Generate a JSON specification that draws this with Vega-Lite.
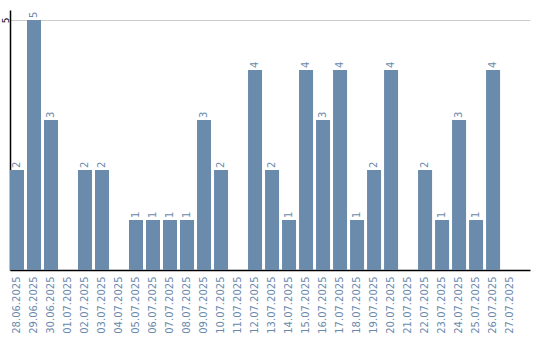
{
  "$schema": "https://vega.github.io/schema/vega-lite/v6.json",
  "width": 520,
  "height": 260,
  "autosize": "none",
  "padding": {"left": 10, "top": 10, "right": 10, "bottom": 70},
  "background": "white",
  "config": {"view": {"stroke": null}, "font": "DejaVu Sans"},
  "data": {"values": [
    {"d": "28.06.2025", "v": 2}, {"d": "29.06.2025", "v": 5}, {"d": "30.06.2025", "v": 3},
    {"d": "01.07.2025", "v": 0}, {"d": "02.07.2025", "v": 2}, {"d": "03.07.2025", "v": 2},
    {"d": "04.07.2025", "v": 0}, {"d": "05.07.2025", "v": 1}, {"d": "06.07.2025", "v": 1},
    {"d": "07.07.2025", "v": 1}, {"d": "08.07.2025", "v": 1}, {"d": "09.07.2025", "v": 3},
    {"d": "10.07.2025", "v": 2}, {"d": "11.07.2025", "v": 0}, {"d": "12.07.2025", "v": 4},
    {"d": "13.07.2025", "v": 2}, {"d": "14.07.2025", "v": 1}, {"d": "15.07.2025", "v": 4},
    {"d": "16.07.2025", "v": 3}, {"d": "17.07.2025", "v": 4}, {"d": "18.07.2025", "v": 1},
    {"d": "19.07.2025", "v": 2}, {"d": "20.07.2025", "v": 4}, {"d": "21.07.2025", "v": 0},
    {"d": "22.07.2025", "v": 2}, {"d": "23.07.2025", "v": 1}, {"d": "24.07.2025", "v": 3},
    {"d": "25.07.2025", "v": 1}, {"d": "26.07.2025", "v": 4}, {"d": "27.07.2025", "v": 0}
  ]},
  "encoding": {
    "x": {
      "field": "d", "type": "ordinal", "sort": null,
      "scale": {"paddingInner": 0.176, "paddingOuter": 0.38, "align": 0},
      "axis": {
        "title": null, "labelAngle": -90, "labelFontSize": 10, "labelColor": "#6a8aad",
        "ticks": false, "domainColor": "#000000", "domainWidth": 1.5, "labelPadding": 6,
        "labelFont": "DejaVu Sans"
      }
    },
    "y": {
      "field": "v", "type": "quantitative",
      "scale": {"domain": [0, 5.2], "nice": false},
      "axis": {
        "title": null, "values": [5], "ticks": false, "labelAngle": -90, "labelFontSize": 9,
        "labelColor": "#000000", "domainColor": "#000000", "domainWidth": 1.5,
        "gridColor": "#cccccc", "labelPadding": 5, "labelAlign": "center", "labelBaseline": "middle",
        "labelFont": "DejaVu Sans", "labelBound": false
      }
    }
  },
  "layer": [
    {"mark": {"type": "bar", "color": "#6a8bab"}},
    {
      "transform": [{"filter": "datum.v > 0"}],
      "mark": {"type": "text", "angle": -90, "align": "left", "baseline": "middle", "dx": 2, "fontSize": 10, "color": "#6a8aad", "font": "DejaVu Sans"},
      "encoding": {"text": {"field": "v", "type": "quantitative"}}
    }
  ]
}
